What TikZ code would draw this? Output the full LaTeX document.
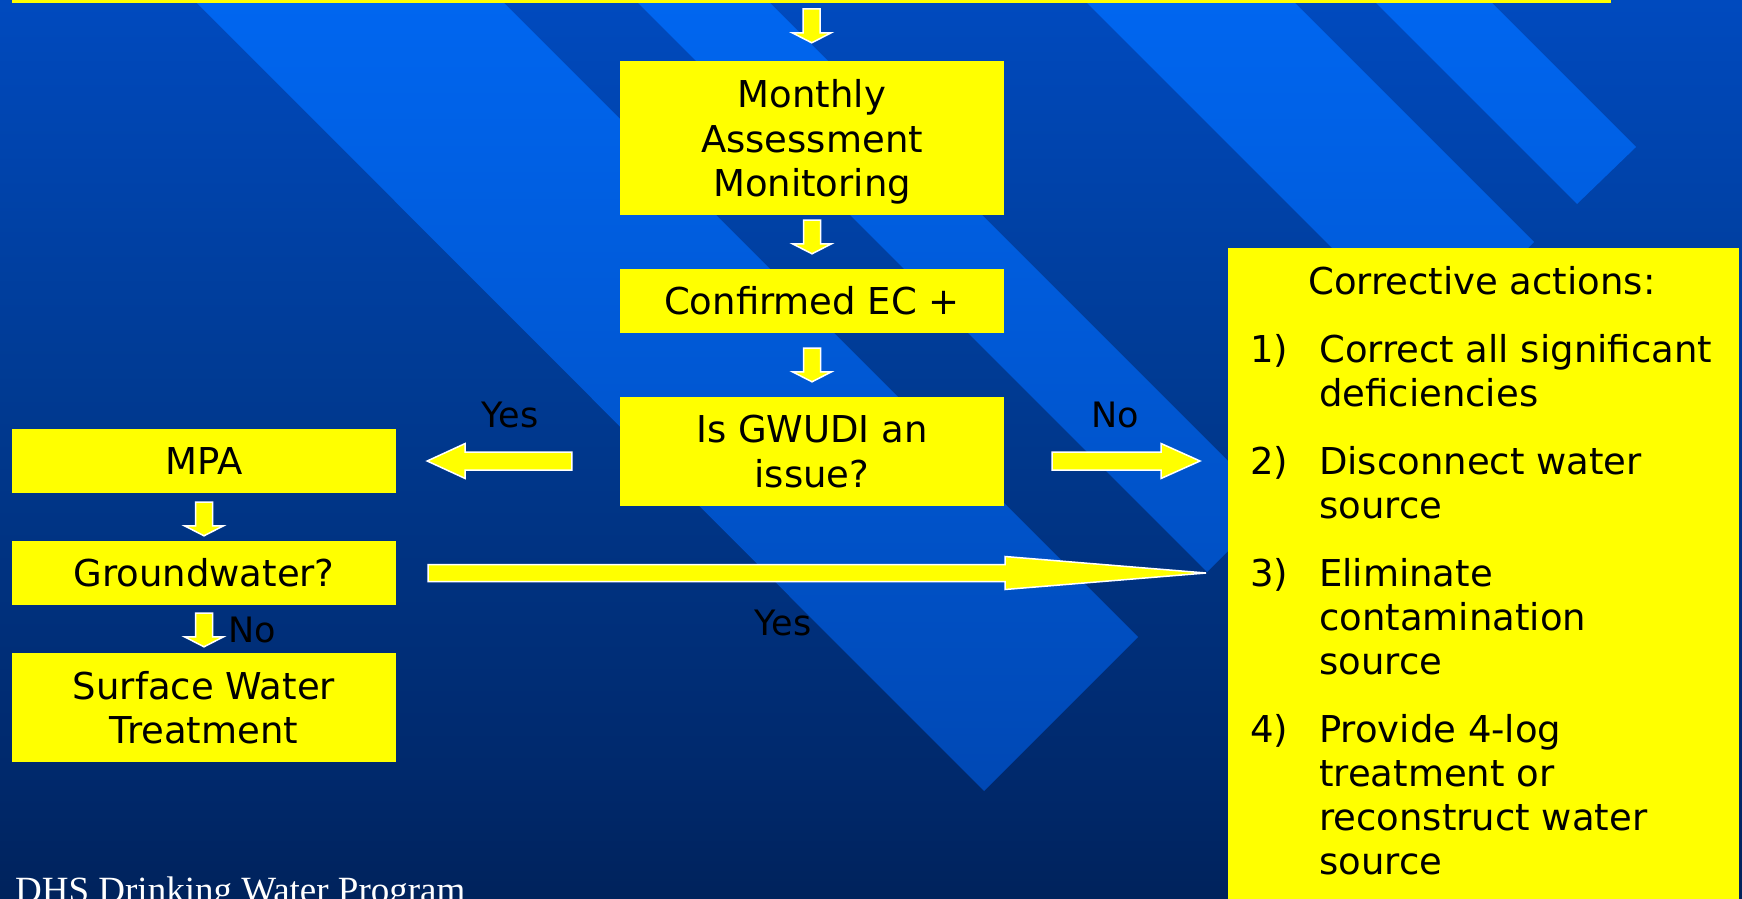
\documentclass[tikz,border=0pt]{standalone}
\usepackage{fontspec}
\setmainfont{DejaVu Sans}
\newfontfamily\footfont{Liberation Serif}
\usetikzlibrary{calc}
\definecolor{bgtop}{HTML}{0058E0}
\definecolor{bgA}{HTML}{004CC4}
\definecolor{bgB}{HTML}{003A92}
\definecolor{bgC}{HTML}{00286A}
\definecolor{bgD}{HTML}{001840}
\definecolor{bgbot}{HTML}{000818}
\definecolor{stripetop}{HTML}{0066F0}
\definecolor{stripebot}{HTML}{0044AC}
\definecolor{boxyellow}{HTML}{FFFF00}
\pgfdeclareverticalshading{bgshade}{100bp}{color(0bp)=(bgbot); color(13.24bp)=(bgD); color(31.03bp)=(bgC); color(53.28bp)=(bgB); color(77.75bp)=(bgA); color(100bp)=(bgtop)}
\newcommand\bxfont{\fontsize{37pt}{44.5pt}\selectfont}
\newcommand\lblfont{\fontsize{35pt}{42pt}\selectfont}
\newcommand\corrfont{\fontsize{37pt}{44pt}\selectfont}
\newcommand\blkdown[2]{\path[blk] let \p1=#1, \p2=#2 in
  (\x1-8.5pt,\y1) -- (\x1+8.5pt,\y1) -- (\x1+8.5pt,\y2+10pt) -- (\x1+19.5pt,\y2+10pt)
  -- (\x1,\y2) -- (\x1-19.5pt,\y2+10pt) -- (\x1-8.5pt,\y2+10pt) -- cycle;}
\newcommand\blkhoriz[5]{\path[blk] let \p1=#1, \p2=#2, \p3=($(\p2)!#5!(\p1)$) in
  (\x1,\y2+#3) -- (\x3,\y2+#3) -- (\x3,\y2+#4) -- (\x2,\y2) -- (\x3,\y2-#4)
  -- (\x3,\y2-#3) -- (\x1,\y2-#3) -- cycle;}
\begin{document}
\begin{tikzpicture}[x=1pt,y=-1pt,
  ybox/.style={fill=boxyellow, inner sep=0pt, align=center, text=black, font=\bxfont},
  lbl/.style={text=black, font=\lblfont, inner sep=0pt},
  blk/.style={fill=boxyellow, draw=white, line width=1.5pt, line join=miter}]
\useasboundingbox (0,0) rectangle (1742,899);
\clip (0,0) rectangle (1742,899);
\shade[shading=bgshade] (0,0) rectangle (1742,899);
\begin{scope}
  \clip (194,0) -- (501,0) -- (1138,637) -- (984,791) -- cycle
        (635,0) -- (767,0) -- (1273,506) -- (1207,572) -- cycle
        (1084,0) -- (1292,0) -- (1534,242) -- (1430,346) -- cycle
        (1373,0) -- (1489,0) -- (1636,147) -- (1577,204) -- cycle;
  \shade[top color=stripetop, bottom color=stripebot] (0,0) rectangle (1742,899);
\end{scope}

\node[ybox, minimum width=1599pt, minimum height=100pt, anchor=south west] (top) at (12,3) {};
\node[ybox, minimum width=384pt, minimum height=154pt, text depth=0pt] (mon) at (812,138) {Monthly\\Assessment\\Monitoring};
\node[ybox, minimum width=384pt, minimum height=64pt] (conf) at (812,301) {Confirmed EC +};
\node[ybox, minimum width=384pt, minimum height=109pt] (gwudi) at (812,451.5) {Is GWUDI an\\issue?};
\node[ybox, minimum width=384pt, minimum height=64pt] (mpa) at (204,461) {MPA};
\node[ybox, minimum width=384pt, minimum height=64pt] (gw) at (204,573) {Groundwater?};
\node[ybox, minimum width=384pt, minimum height=109pt] (sw) at (204,707.5) {Surface Water\\Treatment};
\node[ybox, minimum width=511pt, minimum height=700pt, anchor=north west] (corr) at (1228,248) {};
\node[anchor=north west, inner sep=0pt, align=left, font=\corrfont, text=black] (corrtxt) at (1250,266) {%
\hspace*{58pt}Corrective actions:\\[24pt]
\makebox[69pt][l]{1)}Correct all significant\\
\hspace*{69pt}deficiencies\\[24pt]
\makebox[69pt][l]{2)}Disconnect water\\
\hspace*{69pt}source\\[24pt]
\makebox[69pt][l]{3)}Eliminate\\
\hspace*{69pt}contamination\\
\hspace*{69pt}source\\[24pt]
\makebox[69pt][l]{4)}Provide 4-log\\
\hspace*{69pt}treatment or\\
\hspace*{69pt}reconstruct water\\
\hspace*{69pt}source};

\blkdown{($(top.south)+(0,6)$)}{($(mon.north)+(0,-18)$)}
\blkdown{($(mon.south)+(0,5)$)}{($(conf.north)+(0,-15)$)}
\blkdown{($(conf.south)+(0,15)$)}{($(gwudi.north)+(0,-15)$)}
\blkdown{($(mpa.south)+(0,9)$)}{($(gw.north)+(0,-5)$)}
\blkdown{($(gw.south)+(0,8)$)}{($(sw.north)+(0,-6)$)}
\blkhoriz{($(mpa.east -| gwudi.west)+(-48,0)$)}{($(mpa.east)+(31,0)$)}{9pt}{17.5pt}{38pt}
\blkhoriz{($(mpa.east -| gwudi.east)+(48,0)$)}{($(mpa.east -| corr.west)+(-28,0)$)}{9pt}{17.5pt}{39pt}
\blkhoriz{($(gw.east)+(32,0)$)}{($(gw.east -| corr.west)+(-22,0)$)}{8.5pt}{16.5pt}{201pt}

\node[lbl] (ylbl) at (510,415) {Yes};
\node[lbl] (nlbl) at (1115,415) {No};
\node[lbl] (ylbl2) at (783,623) {Yes};
\node[lbl] (nlbl2) at (252,630) {No};
\node[anchor=base west, inner sep=0pt, text=white, font=\footfont\fontsize{37pt}{44pt}\selectfont] (foot) at (15,902) {DHS Drinking Water Program};
\end{tikzpicture}
\end{document}
